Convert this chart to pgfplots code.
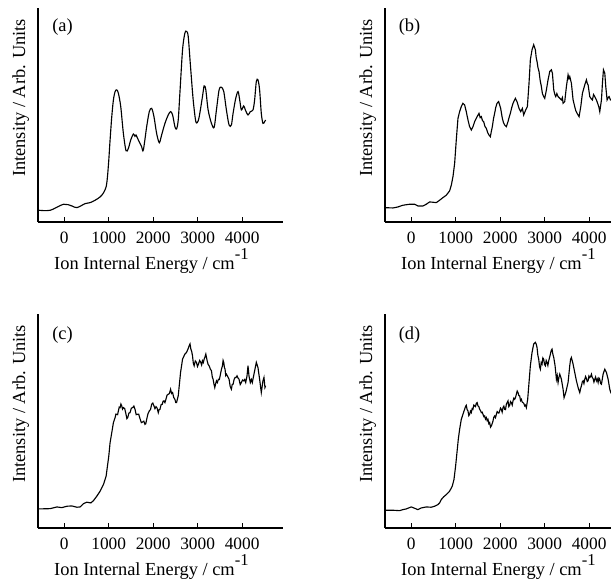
\documentclass[border=0pt]{standalone}
\usepackage{pgfplots}
\pgfplotsset{compat=1.18}
\usepackage{fontspec}
\setmainfont{Liberation Serif}

\pgfplotsset{
  spec/.style={
    scale only axis, width=183.75pt, height=160.5pt,
    anchor=south west,
    axis x line*=bottom, axis y line*=left,
    axis line style={-, line width=0.9pt},
    xmin=-590, xmax=4920, ymin=0, ymax=213.3,
    xtick={0,1000,2000,3000,4000}, ytick=\empty,
    tick align=inside, major tick length=3.5pt,
    tick style={line width=0.8pt, black},
    scaled x ticks=false,
    /pgf/number format/1000 sep={},
    /pgf/number format/assume math mode=true,
    xticklabel style={font=\fontsize{13}{15}\selectfont, anchor=base, yshift=-15.75pt},
    every axis x label/.style={at={(rel axis cs:0.463,-0.224)}, anchor=base},
    every axis y label/.style={at={(rel axis cs:-0.053,0.58)}, rotate=90, anchor=base},
    label style={font=\fontsize{13.8}{16}\selectfont},
    xlabel={Ion Internal Energy / cm\raisebox{0.55em}{\fontsize{12.5}{12}\selectfont -1}},
    ylabel={Intensity / Arb. Units},
    clip=false,
  },
  curve/.style={black, line width=0.85pt, no marks},
}

\begin{document}
\begin{tikzpicture}
% ---------------- (a) ----------------
\begin{axis}[spec, at={(28.5pt,270.75pt)}]
\addplot[curve, smooth, tension=0.5] coordinates {
(-576,11.7) (-314,11.7) (-15,17.7) (172,16) (284,14.3) (471,18.3) (583,19.3) (695,21.7)
(807,25) (882,29) (942,35) (972,45) (1002,61.7) (1031,81.7) (1069,105) (1106,121.7)
(1144,130) (1181,131.7) (1218,128.3) (1271,115) (1330,88.3) (1390,71) (1442,73.3)
(1495,81.7) (1555,87.7) (1590,85.5) (1614,86.7) (1667,81.7) (1741,75) (1779,71.7) (1854,95)
(1913,110) (1966,113.3) (2018,105) (2078,88.3) (2138,79) (2190,86.7) (2265,98.3)
(2339,106.7) (2392,110) (2437,106.7) (2489,95) (2526,92.7) (2564,101.7) (2601,128.3)
(2661,171.7) (2713,188.3) (2750,190) (2788,185) (2840,155) (2900,121.7) (2960,100)
(3012,100.7) (3049,108.3) (3109,125) (3147,135.7) (3184,131.7) (3236,111.7) (3311,98.3)
(3371,94.3) (3423,111.7) (3483,131.7) (3535,134.3) (3588,130) (3647,111.7) (3707,96.7)
(3759,96.7) (3797,108.3) (3857,123.3) (3909,130) (3946,121.7) (3984,111.7) (4036,115.7)
(4073,111.7) (4133,106.7) (4185,110) (4245,111.7) (4282,121.7) (4320,140) (4357,141.7)
(4394,131.7) (4432,108.3) (4469,98.3) (4507,100) (4529,101.7)
};
\node[font=\fontsize{13.8}{16}\selectfont] at (rel axis cs:0.1,0.911) {(a)};
\end{axis}
% ---------------- (b) ----------------
\begin{axis}[spec, at={(288.75pt,270.75pt)}]
\addplot[curve] coordinates {
(-600,14.3) (-413,14) (-300,15) (-188,16.7) (-38,17.7) (75,17.7) (150,16) (263,16)
(338,17.7) (413,20) (488,19.7) (563,19.3) (638,21.7) (713,24.3) (788,26.7) (863,31)
(901,36.7) (938,45) (976,58.3) (1013,81.7) (1051,103.3) (1088,110) (1126,115) (1163,118.3)
(1201,116.7) (1238,110) (1276,101.7) (1313,95) (1351,91.7) (1388,95) (1426,100) (1463,103.3)
(1494,106) (1524,108.3) (1550,104) (1576,105) (1603,101) (1629,100) (1660,95) (1689,93.3) (1720,89) (1749,86.7) (1779,85) (1800,90) (1824,95) (1850,103) (1876,108.3)
(1900,114) (1929,118.3) (1966,120) (2011,113.3) (2049,103.3) (2075,99) (2101,96.7) (2139,95) (2176,100)
(2200,104) (2229,108.3) (2260,114) (2289,118.3) (2342,123.3) (2379,120) (2424,113.3) (2462,110) (2499,113.3)
(2529,106.7) (2574,111.7) (2612,115) (2649,138.3) (2679,161.7) (2717,171.7) (2754,176.7)
(2792,171.7) (2810,164) (2829,160) (2850,154) (2874,150) (2900,141) (2927,135) (2950,128) (2979,125) (3002,123.3) (3040,131.7)
(3077,141.7) (3115,150) (3152,151.7) (3175,148.3) (3205,131.7) (3230,127) (3250,125) (3275,128) (3302,125)
(3340,123.3) (3377,121.7) (3400,124) (3415,118.3) (3452,120) (3490,135) (3527,146.7) (3547,143) (3565,145)
(3602,138.3) (3640,121.7) (3677,115) (3700,111) (3730,108.3) (3775,105) (3813,115) (3850,128.3)
(3903,136.7) (3940,141.7) (3960,138) (3978,136.7) (4015,125) (4045,123) (4075,121.7) (4100,127) (4128,125) (4165,121.7)
(4218,115) (4240,110) (4278,121.7) (4300,138.3) (4323,151.7) (4353,148.3) (4375,135)
(4405,121.7) (4430,124) (4450,125) (4480,121.7) (4530,123)
};
\node[font=\fontsize{13.8}{16}\selectfont] at (rel axis cs:0.1,0.911) {(b)};
\end{axis}
% ---------------- (c) ----------------
\begin{axis}[spec, at={(28.5pt,41.25pt)}]
\addplot[curve] coordinates {
(-576,19) (-314,19.3) (-164,21) (-52,20.3) (60,21.7) (172,22) (284,20.7) (359,21)
(433,24.3) (508,25.7) (598,25) (658,27.3) (732,31.7) (807,36.7) (882,43.3) (942,51.7)
(972,61.7) (1002,71.7) (1031,85) (1069,95) (1106,105)
(1144,110) (1162,113.5) (1181,113.3) (1200,113) (1218,116.7) (1237,120.5) (1256,120) (1275,123.5)
(1293,121.7) (1311,118.5) (1330,120) (1360,119) (1390,113.3) (1409,109) (1428,110) (1454,114.5)
(1480,115) (1510,119.5) (1540,120) (1566,121.5) (1592,118.3) (1618,113) (1644,113.3) (1674,113.5)
(1704,109) (1734,105) (1764,105.7) (1790,106.5) (1816,103.3) (1835,104) (1854,108.3) (1884,114)
(1913,116.7) (1940,118) (1966,123.3) (1992,124.5) (2018,121.7) (2040,119) (2063,121) (2089,119.5)
(2115,115) (2134,118) (2153,118.3) (2179,123) (2205,123.3) (2224,126.5) (2242,126.7) (2265,125)
(2287,128.3) (2313,132.5) (2339,133.3) (2365,134) (2392,138.3) (2415,134) (2437,135) (2463,130)
(2489,128.3) (2508,125) (2526,125) (2564,131.7)
(2616,155) (2661,168.3) (2713,173.3) (2750,175) (2780,178) (2810,181.7) (2829,183.5) (2848,178.3)
(2866,176) (2885,171.7) (2904,164) (2922,161.7) (2948,166.5) (2975,165) (2997,161) (3019,163.3)
(3045,167) (3072,165) (3090,162.5) (3109,166.7) (3128,165) (3147,168.3) (3165,170.5) (3184,173.3)
(3199,170) (3214,166.7) (3236,163) (3259,161.7) (3285,158.5) (3311,156.7) (3330,150.5) (3348,148.3)
(3367,143.5) (3386,140) (3404,143.5) (3423,146.7) (3445,145) (3468,148.3) (3490,148) (3513,153.3)
(3535,158) (3558,161.7) (3573,167) (3588,165) (3602,160) (3617,158.3) (3632,152) (3647,153.3)
(3677,151) (3707,148.3) (3733,141) (3759,138.3) (3778,143) (3797,143.3) (3820,148) (3842,150)
(3864,150) (3886,151.7) (3908,149.5) (3931,148.3) (3958,143) (3984,145) (4010,147.5) (4036,146.7)
(4058,148) (4081,145)
(4111,151.7) (4133,161.7) (4155,151.7) (4185,145) (4208,148) (4230,145) (4282,156.7) (4320,165)
(4357,160) (4394,148.3) (4432,135) (4469,146.7) (4492,150) (4514,140) (4529,141.7)
};
\node[font=\fontsize{13.8}{16}\selectfont] at (rel axis cs:0.1,0.90) {(c)};
\end{axis}
% ---------------- (d) ----------------
\begin{axis}[spec, at={(288.75pt,41.25pt)}]
\addplot[curve] coordinates {
(-600,17.7) (-413,17.7) (-263,17.3) (-188,18.3) (-113,19) (0,21) (75,19.7) (150,18.3)
(225,20) (338,21) (450,20.7) (525,21.7) (600,23.3) (638,25) (675,28.3) (728,31) (788,33.3)
(863,36.7) (923,41.7) (961,48.3) (998,61.7) (1028,75) (1058,88.3) (1088,98.3) (1126,108.3)
(1163,113.3) (1182,116) (1201,118.3) (1220,121) (1238,122.3) (1257,118) (1276,116.7) (1295,112)
(1313,113.3) (1332,116.5) (1351,115) (1370,119) (1388,118.3) (1407,122.5) (1426,121.7) (1445,121)
(1463,124.3) (1482,125) (1501,121.7) (1520,121) (1539,118.3) (1558,117) (1576,115) (1595,115.5)
(1614,113.3) (1633,111) (1651,111.7) (1670,108.5) (1689,110) (1708,107) (1726,108.3) (1745,104)
(1764,105) (1783,100.5) (1801,101.7) (1820,104) (1839,106.7) (1858,110.5) (1876,111.7) (1895,110)
(1914,113.3) (1933,116) (1951,115) (1970,114.5) (1989,116.7) (2008,119.5) (2026,118.3) (2045,115.5)
(2064,120) (2083,121.5) (2101,118.3) (2120,118) (2139,123.3) (2158,125) (2176,126.7) (2195,121)
(2214,122.3) (2233,126) (2252,125) (2271,122.5) (2289,126.7) (2308,129.5) (2327,128.3) (2345,130)
(2364,133.3) (2383,136.5) (2402,135) (2420,132) (2439,131.7) (2458,127) (2477,128.3) (2495,125.5)
(2514,125) (2533,124) (2552,121.7) (2570,122.5) (2589,120)
(2619,128.3) (2649,145) (2679,161.7) (2717,175) (2754,183.3) (2792,185) (2810,183.5) (2829,180)
(2848,172) (2867,168.3) (2885,161) (2904,158.3) (2923,165) (2942,163.3) (2960,169.5) (2979,168.3)
(2998,163) (3017,161.7) (3035,167) (3054,165) (3073,162) (3092,166.7) (3111,170) (3130,173.3)
(3148,177) (3167,178.3) (3186,173) (3205,170) (3235,161.7) (3265,148.3) (3283,152) (3302,145)
(3321,150) (3340,153.3) (3358,151) (3377,148.3) (3415,138.3) (3437,130)
(3475,135) (3527,145) (3565,161.7) (3583,168) (3602,170) (3640,163.3) (3677,155) (3715,146.7)
(3753,140) (3790,135) (3809,139) (3828,141.7) (3846,145.5) (3865,146.7) (3884,144) (3903,148.3)
(3921,151) (3940,149) (3959,146) (3978,146.7) (3996,151.5) (4015,150) (4034,151) (4053,153.3)
(4071,150) (4090,149) (4109,145.5) (4128,148.3) (4146,150.5) (4165,146.7) (4184,148.5) (4203,145)
(4221,149.5) (4240,148.3) (4259,144) (4278,143.3) (4315,153.3) (4353,158.3) (4390,155) (4428,148.3)
(4465,138.3) (4488,135) (4530,137)
};
\node[font=\fontsize{13.8}{16}\selectfont] at (rel axis cs:0.1,0.90) {(d)};
\end{axis}
\pgfresetboundingbox
\useasboundingbox (0,0) rectangle (458.25pt,437.25pt);
\end{tikzpicture}
\end{document}
